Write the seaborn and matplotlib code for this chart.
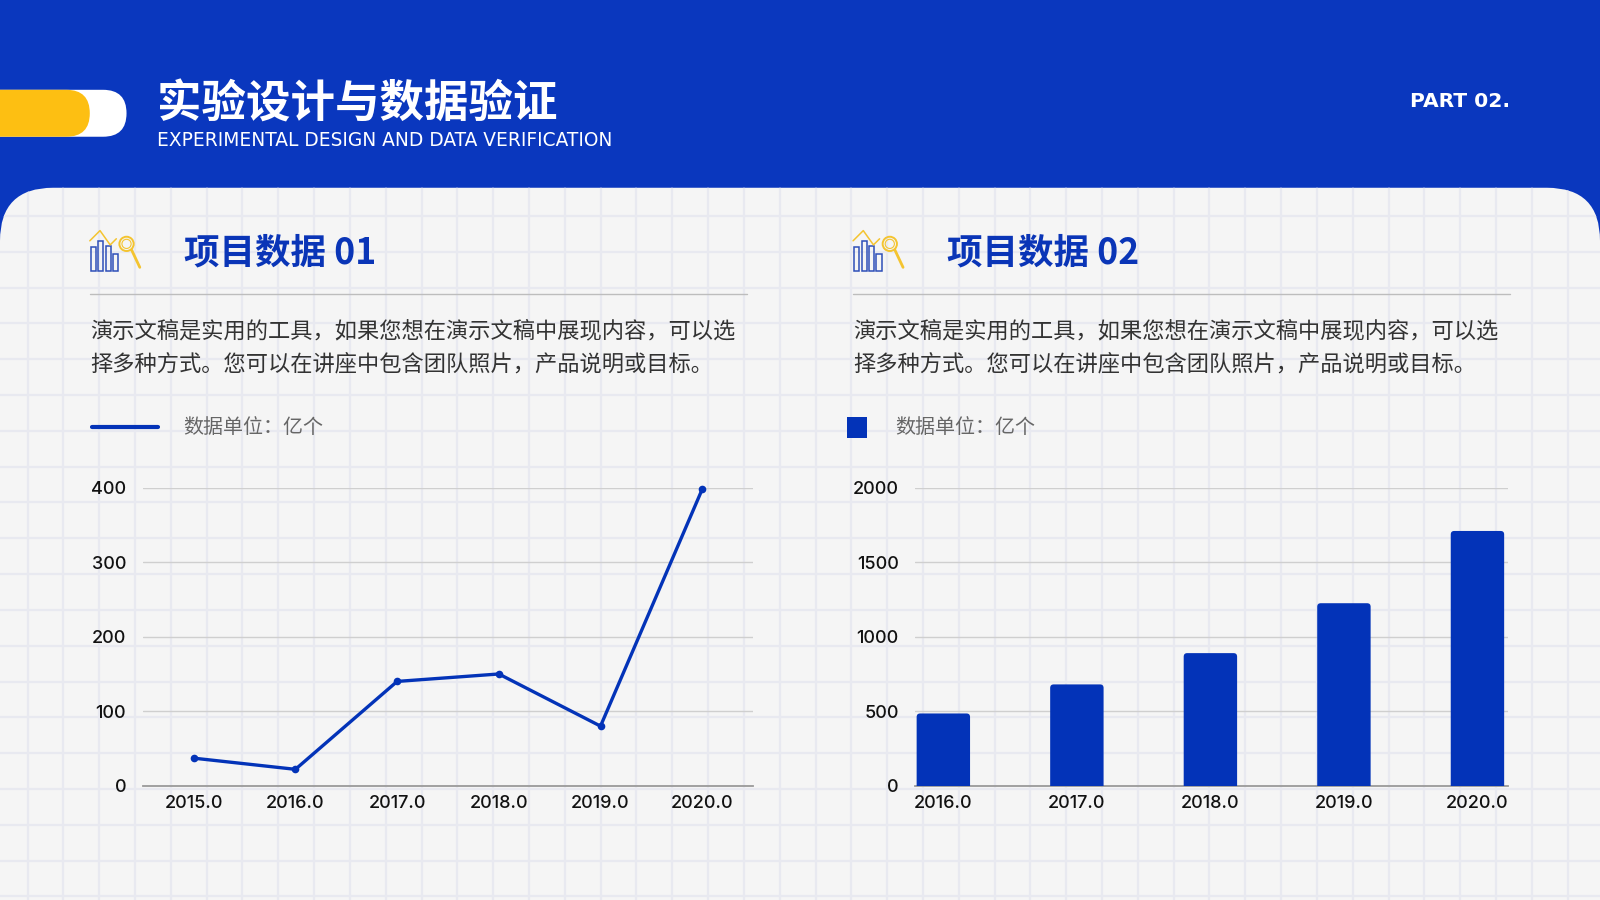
import numpy as np
import pandas as pd
import seaborn as sns
import matplotlib
matplotlib.use("Agg")
import matplotlib.pyplot as plt
from matplotlib.patches import FancyBboxPatch, Rectangle, Circle

# ---------------- data ----------------
years_line = [2015, 2016, 2017, 2018, 2019, 2020]
values_line = [37, 22, 140, 150, 80, 398]
line_yticks = [0, 100, 200, 300, 400]

bar_labels = ["2016.0", "2017.0", "2018.0", "2019.0", "2020.0"]
values_bar = [485, 680, 890, 1225, 1710]
bar_yticks = [0, 500, 1000, 1500, 2000]

title_cn = "实验设计与数据验证"
title_en = "EXPERIMENTAL DESIGN AND DATA VERIFICATION"
part_label = "PART 02."
section_titles = ["项目数据 01", "项目数据 02"]
body_lines = ["演示文稿是实用的工具，如果您想在演示文稿中展现内容，可以选",
              "择多种方式。您可以在讲座中包含团队照片，产品说明或目标。"]
legend_label = "数据单位：亿个"

# ---------------- style ----------------
sns.set_theme(style="white")
plt.rcParams["font.family"] = ["Noto Sans CJK SC", "DejaVu Sans"]

BLUE_BG = "#0A37BE"
BLUE = "#0333B8"
HEAD_BLUE = "#0A35B7"
YELLOW = "#FDBF12"
PANEL = "#F5F5F5"
GRIDC = "#E8E9F0"

W, H = 1568, 882
fig = plt.figure(figsize=(16, 9), dpi=100)
fig.patch.set_facecolor(BLUE_BG)
bg = fig.add_axes([0, 0, 1, 1])
bg.set_xlim(0, W)
bg.set_ylim(H, 0)
bg.axis("off")
bg.patch.set_alpha(0)

panel = FancyBboxPatch((0, 184), W, 800, boxstyle="round,pad=0,rounding_size=52",
                       fc=PANEL, ec="none", zorder=1)
bg.add_patch(panel)
for x in np.arange(27, W, 35.1):
    ln, = bg.plot([x, x], [184, H], color=GRIDC, lw=1.6, zorder=2)
    ln.set_clip_path(panel)
for y in np.arange(1, H + 1, 35.1):
    if y < 184:
        continue
    ln, = bg.plot([0, W], [y, y], color=GRIDC, lw=1.6, zorder=2)
    ln.set_clip_path(panel)

# pill decoration
bg.add_patch(FancyBboxPatch((-60, 88), 184, 46, boxstyle="round,pad=0,rounding_size=23",
                            fc="white", ec="none", zorder=3))
bg.add_patch(FancyBboxPatch((-60, 88), 148, 46, boxstyle="round,pad=0,rounding_size=23",
                            fc=YELLOW, ec="none", zorder=4))

bg.text(154, 102, title_cn, color="white", fontsize=32.0, fontweight="heavy",
        va="center", ha="left", zorder=5)
bg.text(154, 138, title_en, color="white", fontsize=13.4, family=["DejaVu Sans"],
        va="center", ha="left", zorder=5)
bg.text(1480, 99, part_label, color="white", fontsize=14.6, fontweight="bold",
        family=["DejaVu Sans"], va="center", ha="right", zorder=5)


def draw_icon(ox):
    heights = [24, 30, 25, 17]
    for k, h in enumerate(heights):
        bg.add_patch(Rectangle((89 + ox + k * 7.3, 266 - h), 5, h, fc="none",
                               ec="#2E4FB8", lw=1.1, zorder=5))
    bg.plot([88 + ox, 98 + ox, 108 + ox, 114 + ox], [236, 226, 240, 234],
            color="#F4C430", lw=1.1, zorder=5)
    bg.add_patch(Circle((124 + ox, 239), 7, fc="none", ec="#F4C430", lw=1.4, zorder=6))
    bg.add_patch(Circle((124 + ox, 239), 4.5, fc="none", ec="#F4C430", lw=0.8, zorder=6))
    bg.plot([129 + ox, 137 + ox], [245, 262], color="#F4C430", lw=2.0,
            solid_capstyle="round", zorder=6)


for i, ox in enumerate([0, 748]):
    draw_icon(ox)
    bg.text(180 + ox, 248, section_titles[i], color=HEAD_BLUE, fontsize=25.6,
            fontweight="bold", va="center", ha="left", zorder=5)
    bg.plot([88 + ox, 732 + ox], [288, 288], color="#BDBDBD", lw=1.0, zorder=5)
    for j, t in enumerate(body_lines):
        bg.text(88 + ox, 324 + j * 33, t, color="#333333", fontsize=16.0,
                va="center", ha="left", zorder=5)

# legends
bg.plot([90, 155], [418, 418], color=BLUE, lw=3, zorder=5)
bg.text(180, 419, legend_label, color="#666666", fontsize=14.4, va="center", ha="left", zorder=5)
bg.add_patch(Rectangle((830, 409), 20, 20, fc=BLUE, ec="none", zorder=5))
bg.text(877, 419, legend_label, color="#666666", fontsize=14.4, va="center", ha="left", zorder=5)


def ax_rect(l, t, r, b):
    return [l / W, 1 - b / H, (r - l) / W, (b - t) / H]


def style_axis(ax, yticks):
    ax.set_facecolor("none")
    ax.set_ylim(yticks[0], yticks[-1])
    ax.set_yticks(yticks)
    ax.grid(axis="y", color="#CFCFCF", lw=1.0)
    ax.grid(axis="x", visible=False)
    for s in ["left", "right", "top"]:
        ax.spines[s].set_visible(False)
    ax.spines["bottom"].set_color("#9A9A9A")
    ax.spines["bottom"].set_linewidth(1.3)
    ax.tick_params(axis="both", length=0, labelsize=13, labelcolor="#111111")
    ax.tick_params(axis="y", pad=12)
    ax.tick_params(axis="x", pad=7)
    ax.set_xlabel("")
    ax.set_ylabel("")
    for lab in ax.get_xticklabels() + ax.get_yticklabels():
        lab.set_family(["Inter", "DejaVu Sans"])
        lab.set_fontweight("medium")


# line chart
ax1 = fig.add_axes(ax_rect(140, 478, 738, 770))
df_line = pd.DataFrame({"year": years_line, "value": values_line})
sns.lineplot(data=df_line, x="year", y="value", ax=ax1, color=BLUE, lw=2.4,
             marker="o", markersize=5.5, markeredgewidth=0, clip_on=False, zorder=5)
ax1.set_xlim(years_line[0] - 0.5, years_line[-1] + 0.5)
ax1.set_xticks(years_line)
ax1.set_xticklabels([f"{y:.1f}" for y in years_line])
style_axis(ax1, line_yticks)

# bar chart
ax2 = fig.add_axes(ax_rect(897, 478, 1478, 770))
df_bar = pd.DataFrame({"year": bar_labels, "value": values_bar})
sns.barplot(data=df_bar, x="year", y="value", ax=ax2, color=BLUE, width=0.4,
            saturation=1, zorder=3)
ax2.set_xlim(-0.21, len(bar_labels) - 1 + 0.23)
style_axis(ax2, bar_yticks)

# round the bar tops slightly (derived from seaborn's own bar patches)
fig.canvas.draw()
bbox_px = ax2.get_window_extent()
x_per_px = (ax2.get_xlim()[1] - ax2.get_xlim()[0]) / bbox_px.width
y_per_px = (ax2.get_ylim()[1] - ax2.get_ylim()[0]) / bbox_px.height
rad_px = 3.5
for p in list(ax2.patches):
    x0, w, h = p.get_x(), p.get_width(), p.get_height()
    fc = p.get_facecolor()
    p.remove()
    ext = rad_px * y_per_px
    rp = FancyBboxPatch((x0, -ext), w, h + ext,
                        boxstyle=f"round,pad=0,rounding_size={rad_px * x_per_px}",
                        mutation_aspect=y_per_px / x_per_px,
                        fc=fc, ec="none", zorder=3)
    ax2.add_patch(rp)

fig.savefig("out.png", dpi=100, facecolor=fig.get_facecolor())
